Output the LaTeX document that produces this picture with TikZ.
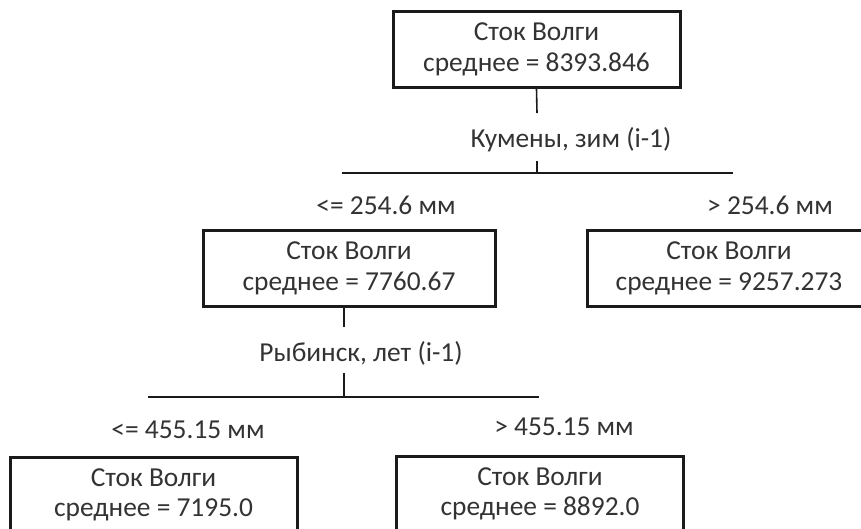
\documentclass[tikz,border=0pt]{standalone}
\usepackage{fontspec}
\setmainfont{Carlito}
\usepackage{xcolor}
\usetikzlibrary{positioning}
\definecolor{inkgray}{HTML}{333333}
\definecolor{rulegray}{HTML}{1A1A1A}

\begin{document}
\begin{tikzpicture}[
  x=1pt,y=-1pt,
  leafbox/.style={draw=rulegray,line width=3pt,minimum width=287pt,minimum height=76pt,
    inner sep=0pt,align=center,text=inkgray},
  splitlabel/.style={text=inkgray,inner sep=0pt},
  edge/.style={draw=rulegray,line width=1.6pt},
  every node/.style={font=\fontsize{27.4}{30.5}\selectfont}
]
  \useasboundingbox (0,0) rectangle (861,528);
  \clip (0,0) rectangle (861,528);
  % first split
  \node[leafbox] (root) at (536.5,49.5) {Сток Волги\\среднее = 8393.846};
  \coordinate (stemA) at (537,113);
  \node[splitlabel] (qA) at (571,140) {Кумены, зим (i-1)};
  \coordinate (forkA) at (537,173);
  \coordinate (forkAtop) at (537,161);
  \coordinate (forkAleft) at (342,173);
  \coordinate (forkAright) at (733,173);
  \draw[edge] (root.south) -- (stemA);
  \draw[edge] (forkAtop) -- (forkA);
  \draw[edge] (forkAleft) -- (forkAright);
  \node[splitlabel] (leA) at (386,205) {<= 254.6 мм};
  \node[splitlabel] (gtA) at (770,205) {> 254.6 мм};
  \node[leafbox,minimum width=292pt] (left) at (349,268.5) {Сток Волги\\среднее = 7760.67};
  % right box runs past the page edge
  \node[leafbox,minimum width=330pt] (right) at (752,268.5)
    {\hspace*{-46pt}Сток Волги\\\hspace*{-46pt}среднее = 9257.273};
  % second split
  \coordinate (stemB) at (344,327);
  \node[splitlabel] (qB) at (361,353) {Рыбинск, лет (i-1)};
  \coordinate (forkB) at (344,397);
  \coordinate (forkBtop) at (344,373);
  \coordinate (forkBleft) at (148,397);
  \coordinate (forkBright) at (539,397);
  \draw[edge] (left.south -| stemB) -- (stemB);
  \draw[edge] (forkBtop) -- (forkB);
  \draw[edge] (forkBleft) -- (forkBright);
  \node[splitlabel] (leB) at (188,430) {<= 455.15 мм};
  \node[splitlabel] (gtB) at (564,427) {> 455.15 мм};
  \node[leafbox] (leftleft) at (153.5,495) {Сток Волги\\среднее = 7195.0};
  \node[leafbox] (leftright) at (540,494) {Сток Волги\\среднее = 8892.0};
\end{tikzpicture}
\end{document}
